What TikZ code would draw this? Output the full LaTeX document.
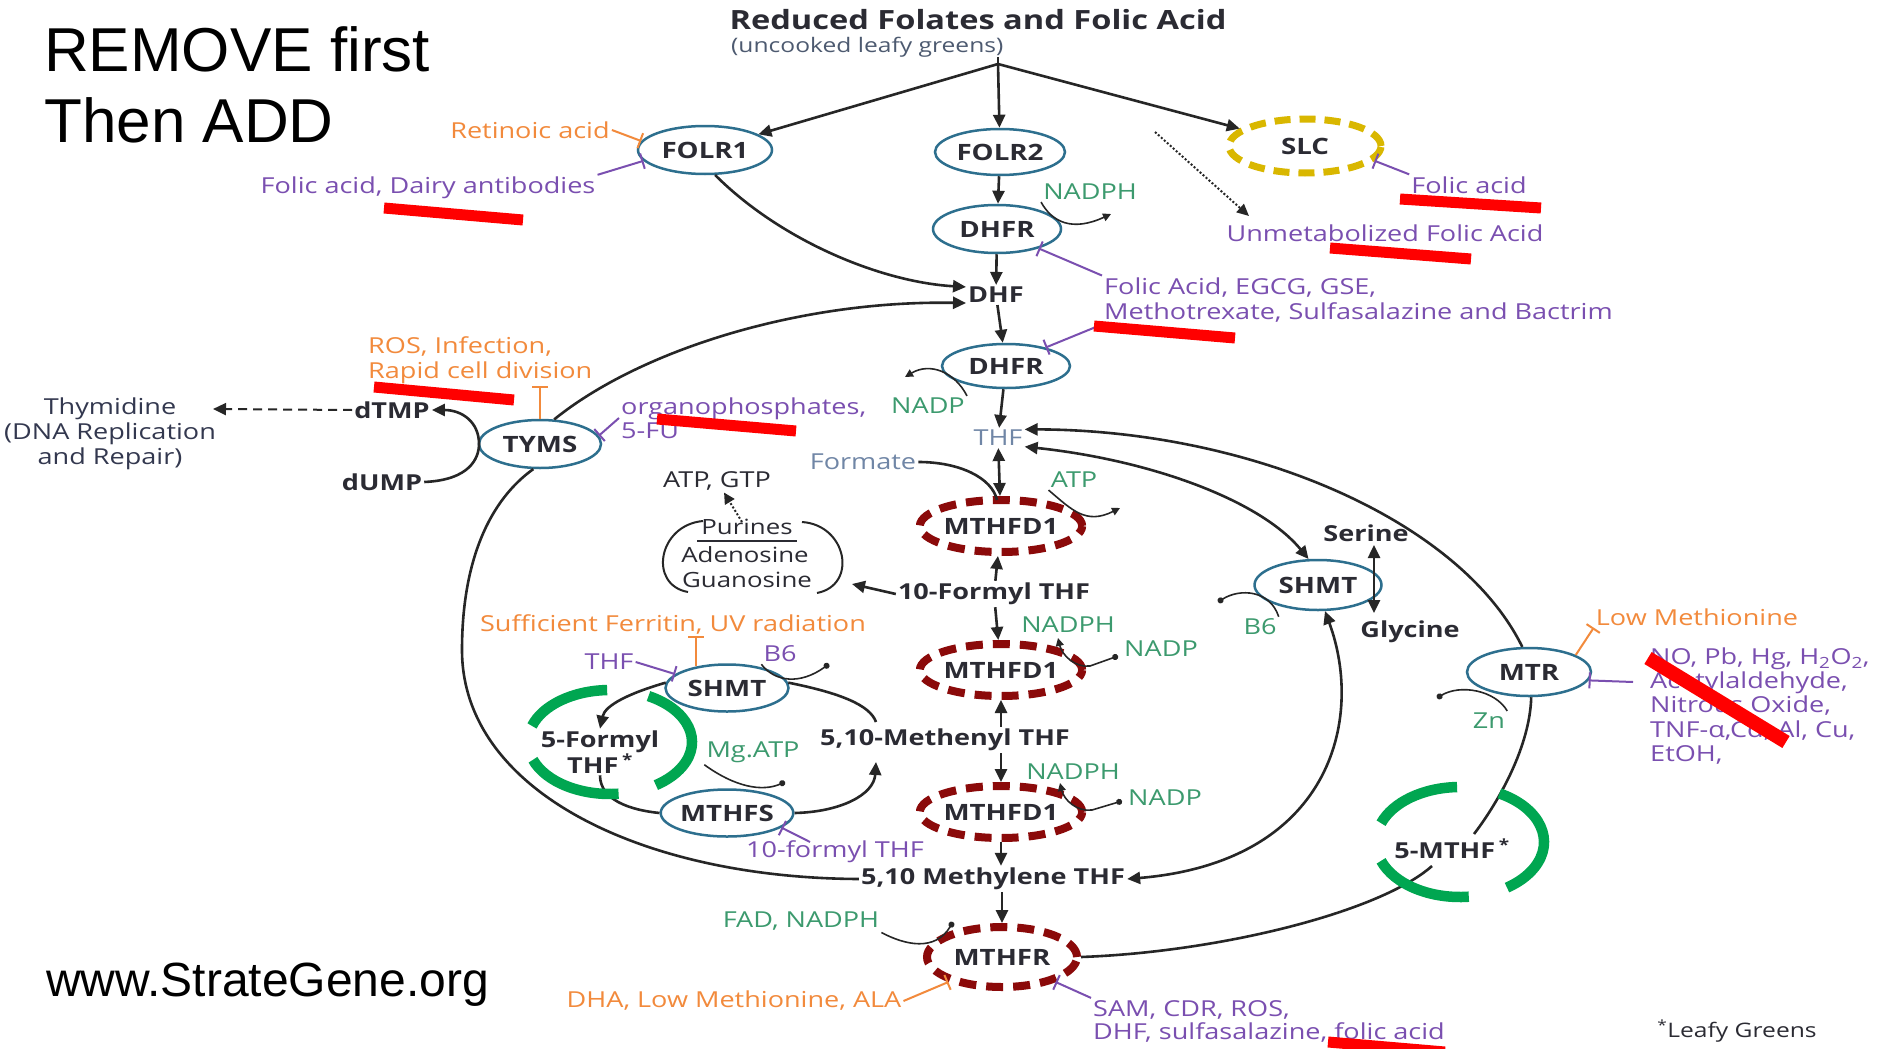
\documentclass[tikz,border=0pt]{standalone}
\usepackage{fontspec}
\setmainfont{Open Sans}[FakeStretch=1.23]
\newfontfamily\helv{Liberation Sans}
\usetikzlibrary{shapes.geometric,arrows.meta}
\definecolor{txt}{HTML}{2B2B33}
\definecolor{lk}{HTML}{262626}
\definecolor{enzb}{HTML}{2D6F8E}
\definecolor{dred}{HTML}{8B0A0A}
\definecolor{slcy}{HTML}{D9B700}
\definecolor{cof}{HTML}{3C9A6E}
\definecolor{purp}{HTML}{7A4FB0}
\definecolor{orng}{HTML}{F28A3C}
\definecolor{thfc}{HTML}{7086A6}
\definecolor{grn}{HTML}{00A651}
\definecolor{subc}{HTML}{4D5A70}
\definecolor{thyc}{HTML}{33384F}
\tikzset{
  lbl/.style={inner sep=2pt, font=\fontsize{22}{23}\selectfont},
  mol/.style={lbl, font=\fontsize{22}{24}\selectfont\bfseries, text=txt},
  enz/.style={ellipse, draw=enzb, line width=2.5, minimum width=128, minimum height=46, inner sep=0pt, font=\fontsize{22.5}{24}\selectfont\bfseries, text=txt},
  rdash/.style={enz, draw=dred, line width=8, dash pattern=on 17pt off 10pt, minimum width=152, minimum height=52},
  conn/.style={draw=lk, line width=2.6, -{Triangle[length=13pt,width=12pt]}},
  conn2/.style={draw=lk, line width=2.6, {Triangle[length=13pt,width=12pt]}-{Triangle[length=13pt,width=12pt]}},
  plain/.style={draw=lk, line width=2.6},
  cofl/.style={draw=lk, line width=1.6},
  cofa/.style={cofl, -{Triangle[length=8pt,width=8pt]}},
  cofd/.style={cofl, -{Circle[length=6pt]}},
  inhP/.style={draw=purp, line width=2, -{Bar[width=16pt,line width=2pt]}},
  inhO/.style={draw=orng, line width=2, -{Bar[width=16pt,line width=2pt]}},
  rbar/.style={draw=red, line width=11},
  gring/.style={draw=grn, line width=10.5},
}
\begin{document}
\begin{tikzpicture}[x=1pt,y=-1pt]
\useasboundingbox[fill=white] (0,0) rectangle (1882,1049);

% slide headers
\node[anchor=base west, inner sep=0pt, font=\helv\fontsize{62}{62}\selectfont] (h1) at (44,72) {REMOVE first};
\node[anchor=base west, inner sep=0pt, font=\helv\fontsize{62}{62}\selectfont] (h2) at (44,142) {Then ADD};
\node[anchor=base west, inner sep=0pt, font=\helv\fontsize{48}{48}\selectfont] (web) at (46,996) {www.StrateGene.org};

% title
\node[font=\bfseries\fontsize{26.5}{28}\selectfont, text=txt, inner sep=0pt] (title) at (978,20) {Reduced Folates and Folic Acid};
\node[anchor=west, inner sep=0pt, font=\fontsize{20}{21}\selectfont, text=subc] (sub) at (731,47) {(uncooked leafy greens)};
\coordinate (split) at (998,64);

% enzymes / molecules
\node[enz, minimum width=134, minimum height=48] (folr1) at (705,150) {FOLR1};
\node[enz, minimum width=130] (folr2) at (1000,152) {FOLR2};
\node[enz, minimum height=48] (dhfr1) at (997,229) {DHFR};
\node[enz, draw=slcy, line width=7, dash pattern=on 16pt off 9pt, minimum width=152, minimum height=54] (slc) at (1305,146) {SLC};
\node[mol] (dhf) at (996,295) {DHF};
\node[enz, minimum height=44] (dhfr2) at (1006,366) {DHFR};
\node[lbl, text=thfc] (thf) at (998,438) {THF};
\node[lbl, text=thfc] (formate) at (863,462) {Formate};
\node[rdash, minimum width=154] (mthfd1a) at (1001,526) {MTHFD1};
\node[lbl, text=cof] (atp) at (1074,480) {ATP};
\node[lbl, text=txt] (atpgtp) at (717,481) {ATP, GTP};
\node[mol] (f10) at (994,594) {10-Formyl THF};
\node[lbl, text=cof] (nadphb) at (1068,625) {NADPH};
\node[rdash] (mthfd1b) at (1001,670) {MTHFD1};
\node[lbl, text=cof] (nadpb) at (1161,649) {NADP};
\node[mol] (methenyl) at (945,740) {5,10-Methenyl THF};
\node[lbl, text=cof] (nadphc) at (1073,772) {NADPH};
\node[rdash] (mthfd1c) at (1001,812) {MTHFD1};
\node[lbl, text=cof] (nadpc) at (1165,798) {NADP};
\node[mol] (methylene) at (993,879) {5,10 Methylene THF};
\node[rdash, minimum width=150, minimum height=60] (mthfr) at (1002,957) {MTHFR};
\node[lbl, text=cof] (fad) at (801,921) {FAD, NADPH};
\node[lbl, text=orng] (dha) at (734,1001) {DHA, Low Methionine, ALA};
\node[lbl, text=purp, anchor=west, align=left] (sam) at (1091,1021) {SAM, CDR, ROS,\\DHF, sulfasalazine, folic acid};
\node[mol] (mthf5) at (1452,849) {5-MTHF\,\textsuperscript{*}};
\node[enz, minimum width=124, minimum height=48] (mtr) at (1529,672) {MTR};
\node[lbl, text=orng] (lowmet) at (1697,617) {Low Methionine};
\node[lbl, text=cof] (zn) at (1489,721) {Zn};
\node[lbl, text=purp, anchor=west, align=left, font=\fontsize{22}{24.3}\selectfont] (tox) at (1648,706) {NO, Pb, Hg, H\textsubscript{2}O\textsubscript{2},\\Acetylaldehyde,\\Nitrous Oxide,\\TNF-α,Cd, Al, Cu,\\EtOH,};
\node[enz, minimum width=127, minimum height=50] (shmtr) at (1318,585) {SHMT};
\node[mol] (serine) at (1366,533) {Serine};
\node[mol] (glycine) at (1410,632) {Glycine};
\node[lbl, text=cof] (b6r) at (1260,627) {B6};
\node[lbl, text=thyc, align=center, font=\fontsize{22}{25}\selectfont] (thym) at (110,434) {Thymidine\\(DNA Replication\\and Repair)};
\node[mol] (dtmp) at (392,410) {dTMP};
\node[mol] (dump) at (382,482) {dUMP};
\node[enz, minimum width=122, minimum height=48] (tyms) at (540,444) {TYMS};
\node[lbl, text=orng, anchor=west, align=left, font=\fontsize{22}{25}\selectfont] (ros) at (366,360) {ROS, Infection,\\Rapid cell division};
\node[lbl, text=purp, anchor=west, align=left, font=\fontsize{22}{24}\selectfont] (organo) at (619,418) {organophosphates,\\5-FU};
\node[lbl, text=orng] (retin) at (530,130) {Retinoic acid};
\node[lbl, text=purp] (fadairy) at (428,188) {Folic acid, Dairy antibodies};
\node[lbl, text=purp] (faslc) at (1469,185) {Folic acid};
\node[lbl, text=purp] (umfa) at (1385,233) {Unmetabolized Folic Acid};
\node[lbl, text=purp, anchor=west, align=left, font=\fontsize{22}{25}\selectfont] (egcg) at (1102,300) {Folic Acid, EGCG, GSE,\\Methotrexate, Sulfasalazine and Bactrim};
\node[lbl, text=cof] (nadpha) at (1090,192) {NADPH};
\node[lbl, text=cof] (nadpa) at (928,406) {NADP};
\node[lbl, text=orng] (ferritin) at (673,624) {Sufficient Ferritin, UV radiation};
\node[lbl, text=purp] (thfs) at (609,662) {THF};
\node[lbl, text=purp] (b6l) at (780,654) {B6};
\node[enz, minimum width=123, minimum height=47] (shmtl) at (727,688) {SHMT};
\node[mol, align=center] (formyl5) at (600,752) {5-Formyl\\THF\,\textsuperscript{*}};
\node[lbl, text=cof] (mgatp) at (753,752) {Mg.ATP};
\node[enz, minimum width=125, minimum height=47] (mthfs) at (727,813) {MTHFS};
\node[lbl, text=purp] (f10s) at (835,852) {10-formyl THF};
\node[lbl, text=txt, font=\fontsize{20}{22}\selectfont] (leafy) at (1737,1031) {\textsuperscript{*}Leafy Greens};

% purines box
\node[lbl, text=txt, font=\fontsize{21}{22}\selectfont] (purines) at (747,527) {Purines};
\node[lbl, text=txt, font=\fontsize{21}{22}\selectfont] (adeno) at (745,555) {Adenosine};
\node[lbl, text=txt, font=\fontsize{21}{22}\selectfont] (guano) at (747,580) {Guanosine};
\draw[line width=1.5, draw=txt] (697,541) -- (797,541);
\draw[cofl, line width=2] (703,521) .. controls (658,525) and (648,585) .. (688,592);
\draw[cofl, line width=2] (802,522) .. controls (847,525) and (858,585) .. (817,593);
\coordinate (purR) at (852,584);
\coordinate (purT) at (742,522);

% main connectors
\draw[plain] (split |- sub.south) -- (split);
\draw[conn] (split) -- (folr1);
\draw[conn] (split) -- (folr2);
\draw[conn] (split) -- (slc);
\draw[conn] (folr2) -- (dhfr1);
\draw[conn] (dhfr1) -- (dhf);
\draw[conn] (folr1.-68) .. controls (780,240) and (880,282) .. (dhf.165);
\draw[conn] (tyms.60) .. controls (640,350) and (800,300) .. (dhf.195);
\draw[conn] (dhf) -- (dhfr2);
\draw[conn] (dhfr2) -- (thf);
\coordinate (umfaT) at (1155,132);
\draw[draw=lk, line width=2, dotted, -{Triangle[length=12pt,width=11pt]}] (umfaT) -- (1249,216);
\draw[conn2] (thf) -- (mthfd1a);
\draw[plain] (formate.east) .. controls (960,462) and (992,478) .. (997,500);
\draw[conn] (f10) -- (mthfd1a);
\draw[conn] (f10.west) -- (purR);
\draw[draw=lk, line width=2, dotted, -{Triangle[length=11pt,width=11pt]}] (purT) -- (atpgtp);
\draw[conn] (f10) -- (mthfd1b);
\draw[conn] (methenyl.north -| mthfd1b) -- (mthfd1b);
\draw[conn] (methenyl.south -| mthfd1c) -- (mthfd1c);
\draw[conn] (mthfd1c) -- (methylene.north -| mthfd1c);
\draw[conn] (methylene.south -| mthfr) -- (mthfr);
\coordinate (m5top) at (1474,834);
\coordinate (m5bot) at (1432,866);
\draw[plain] (mthfr.east) .. controls (1220,952) and (1380,912) .. (m5bot);
\draw[plain] (m5top) .. controls (1500,800) and (1530,745) .. (mtr.-85);
\draw[conn] (mtr.105) .. controls (1460,520) and (1250,430) .. (thf.18);
\draw[conn2] (thf.-18) .. controls (1150,460) and (1260,500) .. (shmtr.110);
\draw[conn2] (shmtr.-75) .. controls (1365,720) and (1330,862) .. (methylene.east);
\draw[conn2] (1374,545) -- (1374,613);
\draw[conn] (dump.east) .. controls (470,480) and (479,458) .. (479,444) .. controls (479,422) and (462,410) .. (dtmp.east);
\draw[draw=lk, line width=2, dashed, dash pattern=on 9pt off 6pt, -{Triangle[length=13pt,width=12pt]}] (dtmp.west) -- (213,409);
\draw[plain] (methylene.west) .. controls (640,878) and (462,790) .. (462,650) .. controls (462,560) and (490,500) .. (tyms.-105);
\draw[conn] (shmtl.175) .. controls (630,693) and (605,705) .. (formyl5.north);
\draw[plain] (shmtl.5) .. controls (840,693) and (870,705) .. (876,722);
\draw[plain] (formyl5.south) .. controls (600,800) and (630,810) .. (mthfs.west);
\draw[conn] (mthfs.east) .. controls (840,812) and (874,795) .. (876,762);

% cofactor side arrows
\coordinate (ca1) at (1111,214);
\draw[cofa] (nadpha.south west) .. controls (1052,222) and (1072,232) .. (ca1);
\coordinate (ca2) at (905,377);
\draw[cofa] (nadpa.north east) .. controls (955,372) and (930,362) .. (ca2);
\coordinate (ca3) at (1120,508);
\draw[cofa] (atp.south west) .. controls (1072,510) and (1086,525) .. (ca3);
\coordinate (cb1) at (1058,638);
\coordinate (cb2) at (1118,656);
\draw[cofl, {Triangle[length=8pt,width=8pt]}-{Circle[length=6pt]}] (cb1) .. controls (1062,655) and (1075,668) .. (1090,666) -- (cb2);
\coordinate (cc1) at (1060,783);
\coordinate (cc2) at (1122,801);
\draw[cofl, {Triangle[length=8pt,width=8pt]}-{Circle[length=6pt]}] (cc1) .. controls (1064,800) and (1077,812) .. (1092,810) -- (cc2);
\coordinate (cd1) at (953,922);
\draw[cofd] (fad.south east) .. controls (905,945) and (935,952) .. (cd1);
\coordinate (cd2) at (829,664);
\draw[cofd] (b6l.south west) .. controls (775,682) and (800,685) .. (cd2);
\coordinate (cd3) at (785,782);
\draw[cofd] (mgatp.south west) .. controls (735,787) and (762,792) .. (cd3);
\coordinate (cd4) at (1218,602);
\draw[cofd] (b6r.north east) .. controls (1270,590) and (1240,588) .. (cd4);
\coordinate (cd5) at (1437,698);
\draw[cofd] (zn.north east) .. controls (1495,690) and (1460,684) .. (cd5);

% inhibitors
\draw[inhO] (retin.east) -- (folr1.172);
\draw[inhP] (fadairy.north east) -- (folr1.190);
\draw[inhP] (faslc.north west) -- (slc.-12);
\draw[inhP] (egcg.north west) -- (dhfr1.-25);
\draw[inhP] (egcg.south west) -- (dhfr2.25);
\draw[inhO] (tyms.north) -- (tyms.north |- ros.south);
\draw[inhP] (organo.west) -- (tyms.8);
\draw[inhO] (shmtl.145) -- (shmtl.145 |- ferritin.south);
\draw[inhP] (thfs.east) -- (shmtl.165);
\coordinate (f10t) at (810,842);
\draw[inhP] (f10t) -- (mthfs.-15);
\draw[inhO] (dha.east) -- (mthfr.205);
\draw[inhP] (sam.north west) -- (mthfr.-25);
\draw[inhO] (mtr.20) -- (lowmet.south west);
\coordinate (toxin) at (1633,682);
\draw[inhP] (toxin) -- (mtr.-8);

% green rings
\begin{scope}[shift={(610,742)}, yscale=-1]
  \draw[gring] (92:82 and 52) arc[start angle=92, end angle=162, x radius=82, y radius=52];
  \draw[gring] (62:82 and 52) arc[start angle=62, end angle=-56, x radius=82, y radius=52];
  \draw[gring] (-84:82 and 52) arc[start angle=-84, end angle=-160, x radius=82, y radius=52];
\end{scope}
\begin{scope}[shift={(1460,842)}, yscale=-1]
  \draw[gring] (92:84 and 55) arc[start angle=92, end angle=160, x radius=84, y radius=55];
  \draw[gring] (62:84 and 55) arc[start angle=62, end angle=-56, x radius=84, y radius=55];
  \draw[gring] (-84:84 and 55) arc[start angle=-84, end angle=-160, x radius=84, y radius=55];
\end{scope}

% red strike bars
\draw[rbar] (384,208) -- (523,220);
\draw[rbar] (1400,199) -- (1541,208);
\draw[rbar] (1330,248) -- (1471,259);
\draw[rbar] (1094,326) -- (1235,338);
\draw[rbar] (374,387) -- (514,400);
\draw[rbar] (657,419) -- (796,431);
\draw[rbar, line width=14] (1648,658) -- (1786,742);
\draw[rbar] (1328,1042) -- (1445,1052);
\end{tikzpicture}
\end{document}
